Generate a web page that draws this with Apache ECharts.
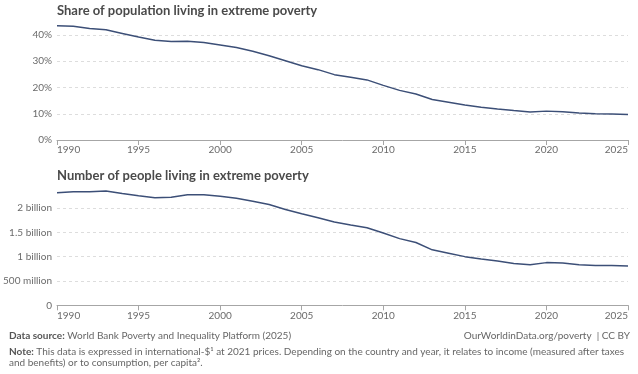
<!DOCTYPE html>
<html><head><meta charset="utf-8">
<script src="https://cdn.jsdelivr.net/npm/echarts@6/dist/echarts.min.js"></script>
<style>html,body{margin:0;padding:0;background:#fff}#c{width:638px;height:374px}</style>
</head><body><div id="c"></div>
<script>
const years = [1990,1991,1992,1993,1994,1995,1996,1997,1998,1999,2000,2001,2002,2003,2004,2005,2006,2007,2008,2009,2010,2011,2012,2013,2014,2015,2016,2017,2018,2019,2020,2021,2022,2023,2024,2025];
const sharePct = [43.5,43.3,42.5,42.0,40.6,39.2,38.0,37.5,37.6,37.1,36.2,35.2,33.8,32.1,30.2,28.3,26.8,24.9,23.9,22.9,20.8,18.9,17.5,15.4,14.4,13.3,12.5,11.8,11.2,10.7,11.0,10.8,10.3,10.0,9.9,9.7];
const peopleBillions = [2.315,2.335,2.335,2.35,2.295,2.25,2.21,2.22,2.27,2.27,2.24,2.20,2.14,2.07,1.97,1.88,1.80,1.71,1.65,1.595,1.485,1.37,1.29,1.14,1.07,1.00,0.95,0.91,0.86,0.835,0.877,0.87,0.835,0.82,0.82,0.81];
const xTicks = [1990,1995,2000,2005,2010,2015,2020,2025];
const peopleTickLabels = {0:'0',0.5:'500 million',1:'1 billion',1.5:'1.5 billion',2:'2 billion'};

const FONT = 'Lato';
const lineColor = '#3c4f77';
const labelColor = '#6b6b6b';
function xAxis(gi){
  return {type:'value',gridIndex:gi,min:1990,max:2025,interval:5,
    axisLine:{lineStyle:{color:'#a6a6a6'}},
    axisTick:{show:true,length:5,lineStyle:{color:'#a6a6a6'}},
    axisLabel:{color:labelColor,fontFamily:FONT,fontSize:10,margin:5,alignMinLabel:'left',alignMaxLabel:'right',
      formatter:v=>xTicks.includes(v)?String(v):''},
    splitLine:{show:false}};
}
function yAxis(gi,max,interval,fmt){
  return {type:'value',gridIndex:gi,min:0,max:max,interval:interval,
    axisLine:{show:false},axisTick:{show:false},
    axisLabel:{color:labelColor,fontFamily:FONT,fontSize:10,margin:5,showMaxLabel:false,formatter:fmt},
    splitLine:{show:true,showMinLine:false,showMaxLine:false,lineStyle:{color:'#dddddd',type:[3,3],width:1}}};
}
const titleStyle = {fontFamily:FONT,fontSize:13,fontWeight:'bold',color:'#4a4a4a'};
const footBase = {fill:'#666666',fontFamily:FONT,fontSize:10};
const footBold = {b:{fontWeight:'bold',fill:'#555555',fontFamily:FONT,fontSize:10}};
const chart = echarts.init(document.getElementById('c'),null,{renderer:'canvas'});
chart.setOption({
  animation:false,
  textStyle:{fontFamily:FONT},
  title:[
    {text:'Share of population living in extreme poverty',left:57,top:4,padding:0,textStyle:titleStyle},
    {text:'Number of people living in extreme poverty',left:57,top:169,padding:0,textStyle:titleStyle}
  ],
  grid:[
    {left:57,right:10,top:24.5,height:115.5},
    {left:57,right:10,top:188.5,height:116.8}
  ],
  xAxis:[xAxis(0),xAxis(1)],
  yAxis:[
    yAxis(0,44,10,v=>v%10===0?v+'%':''),
    yAxis(1,2.4,0.5,v=>peopleTickLabels[v]!==undefined?peopleTickLabels[v]:'')
  ],
  series:[
    {type:'line',xAxisIndex:0,yAxisIndex:0,data:years.map((y,i)=>[y,sharePct[i]]),showSymbol:false,smooth:false,lineStyle:{color:lineColor,width:1.5},itemStyle:{color:lineColor}},
    {type:'line',xAxisIndex:1,yAxisIndex:1,data:years.map((y,i)=>[y,peopleBillions[i]]),showSymbol:false,smooth:false,lineStyle:{color:lineColor,width:1.5},itemStyle:{color:lineColor}}
  ],
  graphic:[
    {type:'text',left:9,top:331,style:Object.assign({text:'{b|Data source:} World Bank Poverty and Inequality Platform (2025)',rich:footBold},footBase)},
    {type:'text',right:8,top:331,style:Object.assign({text:'OurWorldinData.org/poverty  | CC BY'},footBase)},
    {type:'text',left:9,top:347,style:Object.assign({text:'{b|Note:} This data is expressed in international-$¹ at 2021 prices. Depending on the country and year, it relates to income (measured after taxes',rich:footBold},footBase)},
    {type:'text',left:9,top:358,style:Object.assign({text:'and benefits) or to consumption, per capita².'},footBase)}
  ]
});
</script></body></html>
